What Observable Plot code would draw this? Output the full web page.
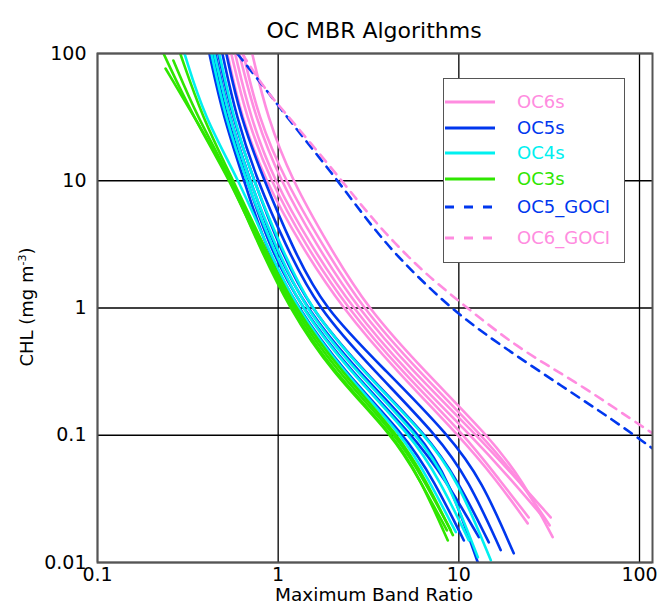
<!DOCTYPE html>
<html><head><meta charset="utf-8">
<script src="https://cdn.jsdelivr.net/npm/d3@7"></script>
<script src="https://cdn.jsdelivr.net/npm/@observablehq/plot@0.6"></script>
<style>
body{margin:0;background:#fff;}
#wrap{position:relative;width:657px;height:604px;font-family:"DejaVu Sans",sans-serif;color:#000;overflow:hidden;}
#wrap svg{position:absolute;left:0;top:0;}
.title{position:absolute;left:374px;top:19.5px;transform:translateX(-50%);font-size:22px;line-height:1;white-space:nowrap;}
.xlab{position:absolute;left:374px;top:586px;transform:translateX(-50%);font-size:18.5px;line-height:1;white-space:nowrap;}
.ylab{position:absolute;left:26px;top:307px;transform:translate(-50%,-50%) rotate(-90deg);font-size:18px;line-height:1;white-space:nowrap;}
.ylab sup{font-size:11px;vertical-align:7px;}
#legend{position:absolute;left:443px;top:78px;width:182px;height:185px;border:1.5px solid #555;background:#fff;box-sizing:border-box;}
.lrow{position:absolute;left:0;width:180px;height:18px;}
.lrow svg{position:absolute;left:11px;top:0;}
.lrow span{position:absolute;left:73px;top:0;font-size:18px;line-height:18px;white-space:nowrap;}
</style></head>
<body><div id="wrap"></div>
<script>
// tick values
const xTicks = [0.1, 1, 10, 100];
const yTicks = [0.01, 0.1, 1, 10, 100];

// each curve: [Maximum Band Ratio, CHL]
const oc6s = [
  [[0.523,100],[0.625,31.6],[0.848,10],[1.323,3.16],[2.257,1],[4.544,0.316],[10.0,0.1],[16.2,0.0443],[24.05,0.0203]],
  [[0.550,100],[0.666,31.6],[0.903,10],[1.410,3.16],[2.405,1],[4.842,0.316],[10.79,0.1],[16.85,0.0443],[24.36,0.0226]],
  [[0.578,100],[0.700,31.6],[0.950,10],[1.503,3.16],[2.564,1],[5.16,0.316],[11.65,0.1],[19.63,0.0443],[30.25,0.0215]],
  [[0.609,100],[0.746,31.6],[1.026,10],[1.622,3.16],[2.733,1],[5.57,0.316],[12.57,0.1],[21.18,0.0443],[32.24,0.0226]],
  [[0.641,100],[0.775,31.6],[1.093,10],[1.751,3.16],[2.912,1],[6.01,0.316],[13.40,0.1],[21.7,0.0443],[31.8,0.0196]],
  [[0.718,100],[0.869,31.6],[1.195,10],[1.889,3.16],[3.103,1],[6.49,0.316],[14.46,0.1],[22.57,0.0443],[33.07,0.0158]]
];
const oc5s = [
  [[0.416,100],[0.497,31.6],[0.649,10],[0.837,3.16],[1.274,1],[2.315,0.316],[5.03,0.1],[7.28,0.0443],[10.66,0.0149]],
  [[0.432,100],[0.516,31.6],[0.674,10],[0.881,3.16],[1.340,1],[2.531,0.316],[5.57,0.1],[8.48,0.0443],[12.90,0.0158]],
  [[0.449,100],[0.536,31.6],[0.700,10],[0.938,3.16],[1.410,1],[2.767,0.316],[6.17,0.1],[8.81,0.0443],[12.74,0.0100]],
  [[0.466,100],[0.557,31.6],[0.736,10],[1.000,3.16],[1.484,1],[2.987,0.316],[6.66,0.1],[9.87,0.0443],[14.65,0.0144]],
  [[0.491,100],[0.586,31.6],[0.766,10],[1.093,3.16],[1.643,1],[3.435,0.316],[7.56,0.1],[11.36,0.0443],[17.06,0.0125]],
  [[0.516,100],[0.617,31.6],[0.837,10],[1.180,3.16],[1.773,1],[4.00,0.316],[8.81,0.1],[13.40,0.0443],[20.13,0.0118]]
];
const oc4s = [
  [[0.303,100],[0.390,31.6],[0.609,10],[0.859,3.16],[1.257,1],[2.286,0.316],[4.90,0.1],[6.83,0.0443],[9.63,0.0173]],
  [[0.427,100],[0.509,31.6],[0.666,10],[0.915,3.16],[1.323,1],[2.499,0.316],[5.43,0.1],[7.85,0.0443],[11.36,0.0149]],
  [[0.443,100],[0.536,31.6],[0.692,10],[0.962,3.16],[1.392,1],[2.698,0.316],[5.94,0.1],[8.69,0.0443],[12.74,0.0110]],
  [[0.472,100],[0.564,31.6],[0.727,10],[1.026,3.16],[1.484,1],[2.949,0.316],[6.57,0.1],[9.87,0.0443],[15.03,0.0104]]
];
const oc3s = [
  [[0.232,100],[0.339,31.6],[0.543,10],[0.785,3.16],[1.165,1],[2.013,0.316],[4.37,0.1],[6.17,0.0443],[8.69,0.0149]],
  [[0.263,88.1],[0.357,31.6],[0.557,10],[0.806,3.16],[1.195,1],[2.118,0.316],[4.54,0.1],[6.41,0.0443],[9.03,0.0179]],
  [[0.238,76.2],[0.344,31.6],[0.550,10],[0.775,3.16],[1.150,1],[1.963,0.316],[4.32,0.1],[6.09,0.0443],[8.59,0.0179]],
  [[0.287,100],[0.380,31.6],[0.564,10],[0.826,3.16],[1.226,1],[2.228,0.316],[4.66,0.1],[6.57,0.0443],[9.27,0.0164]]
];
const oc5Goci = [[0.593,100],[0.806,58.1],[1.136,30.9],[1.521,18.3],[2.091,10.4],[2.698,6.40],[3.707,3.586],[5.226,2.084],[9.27,0.957],[16.43,0.527],[38.0,0.238],[71.9,0.131],[118,0.0788]];
const oc6Goci = [[0.632,100],[0.837,53.1],[1.066,35.7],[1.521,19.6],[2.315,9.52],[3.142,5.53],[4.374,3.276],[6.41,1.905],[9.87,1.147],[21.2,0.482],[43.2,0.27],[97.5,0.124],[118,0.1035]];

const seriesNames = ["OC6s","OC5s","OC4s","OC3s","OC5_GOCI","OC6_GOCI"];
const seriesColors = ["#ff8ce0","#0037ee","#00f0f0","#2fe600","#0037ee","#ff8ce0"];
const seriesDashed = [false,false,false,false,true,true];
const seriesCurves = [oc6s, oc5s, oc4s, oc3s, [oc5Goci], [oc6Goci]];

const rows = [];
seriesNames.forEach((name, s) => {
  seriesCurves[s].forEach((curve, i) => {
    curve.forEach(([mbr, chl]) => rows.push({name, curve: name + "_" + i, mbr, chl}));
  });
});

const fmt = d => String(d);
const lineMarks = seriesNames.map((name, s) =>
  Plot.line(rows.filter(r => r.name === name), {
    x: "mbr", y: "chl", z: "curve",
    stroke: seriesColors[s], strokeWidth: 2.6,
    strokeDasharray: seriesDashed[s] ? "9,7" : null,
    curve: "basis", clip: true
  })
);

const chart = Plot.plot({
  width: 657, height: 604,
  marginTop: 53, marginBottom: 42, marginLeft: 97, marginRight: 5,
  style: {fontFamily: '"DejaVu Sans", sans-serif', fontSize: "19px", color: "black", background: "white", overflow: "visible"},
  x: {type: "log", domain: [0.1, 118], label: null},
  y: {type: "log", domain: [0.01, 100], label: null},
  marks: [
    Plot.gridX({ticks: xTicks, stroke: "black", strokeOpacity: 1, strokeWidth: 1.3}),
    Plot.gridY({ticks: yTicks, stroke: "black", strokeOpacity: 1, strokeWidth: 1.3}),
    ...lineMarks,
    Plot.frame({stroke: "#555", strokeWidth: 2}),
    Plot.axisX({ticks: xTicks, tickSize: 0, tickPadding: 5, tickFormat: fmt, fontSize: 19, label: null}),
    Plot.axisY({ticks: yTicks, tickSize: 0, tickPadding: 11, tickFormat: fmt, fontSize: 19, label: null})
  ]
});

const wrap = document.getElementById("wrap");
wrap.appendChild(chart);

const title = document.createElement("div");
title.className = "title"; title.textContent = "OC MBR Algorithms";
wrap.appendChild(title);
const xl = document.createElement("div");
xl.className = "xlab"; xl.textContent = "Maximum Band Ratio";
wrap.appendChild(xl);
const yl = document.createElement("div");
yl.className = "ylab"; yl.innerHTML = "CHL (mg m<sup>-3</sup>)";
wrap.appendChild(yl);

const legend = document.createElement("div");
legend.id = "legend";
const rowCenters = [23, 49, 74, 100, 128, 159];
seriesNames.forEach((name, s) => {
  const r = document.createElement("div");
  r.className = "lrow";
  r.style.top = (rowCenters[s] - 9) + "px";
  r.innerHTML = `<svg width="52" height="18"><line x1="1" x2="51" y1="9" y2="9" stroke="${seriesColors[s]}" stroke-width="3" ${seriesDashed[s] ? 'stroke-dasharray="9,10"' : ''}/></svg><span style="color:${seriesColors[s]}">${name}</span>`;
  legend.appendChild(r);
});
wrap.appendChild(legend);
</script>
</body></html>
